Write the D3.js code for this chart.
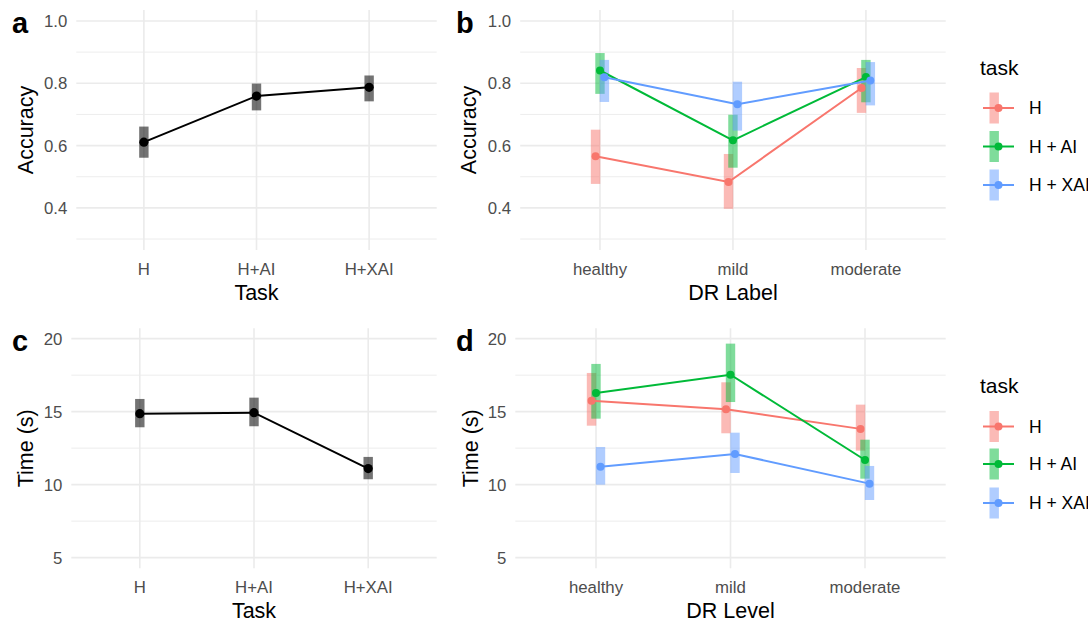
<!DOCTYPE html>
<html>
<head>
<meta charset="utf-8"/>
<script src="https://cdn.jsdelivr.net/npm/d3@7"></script>
<style>
body { margin: 0; background: #fff; }
svg { font-family: "Liberation Sans", Arial, sans-serif; }
.grid-major { stroke: #ebebeb; stroke-width: 1.6; }
.grid-minor { stroke: #ebebeb; stroke-width: 0.9; }
.tick-label { fill: #4d4d4d; font-size: 16.8px; }
.axis-title { fill: #000; font-size: 21.5px; }
.tag { font-size: 29px; font-weight: bold; }
</style>
</head>
<body>
<svg id="fig" width="1088" height="621"></svg>
<script>
// ---- data ----
var tasks = ["H", "H+AI", "H+XAI"];
var accMean = [0.611, 0.759, 0.787];
var accLo   = [0.561, 0.713, 0.742];
var accHi   = [0.661, 0.799, 0.825];
var timeMean = [14.86, 14.93, 11.10];
var timeLo   = [13.93, 14.00, 10.37];
var timeHi   = [15.87, 15.96, 11.90];

var levels = ["healthy", "mild", "moderate"];
var groups = ["H", "H + AI", "H + XAI"];
var groupColors = ["#F8766D", "#00BA38", "#619CFF"];

// accuracy by DR label, one row per group
var accLvMean = [[0.566, 0.483, 0.785], [0.841, 0.617, 0.820], [0.819, 0.733, 0.809]];
var accLvLo   = [[0.477, 0.397, 0.705], [0.766, 0.529, 0.739], [0.740, 0.648, 0.729]];
var accLvHi   = [[0.651, 0.573, 0.849], [0.897, 0.699, 0.875], [0.875, 0.805, 0.868]];

// time by DR level
var timeLvMean = [[15.75, 15.16, 13.82], [16.28, 17.53, 11.69], [11.23, 12.10, 10.07]];
var timeLvLo   = [[14.04, 13.52, 12.33], [14.52, 15.66, 10.41], [10.00, 10.80, 8.95]];
var timeLvHi   = [[17.65, 17.01, 15.48], [18.27, 19.66, 13.08], [12.58, 13.56, 11.28]];

var accTicks = [0.4, 0.6, 0.8, 1.0], accMinor = [0.3, 0.5, 0.7, 0.9];
var timeTicks = [5, 10, 15, 20], timeMinor = [7.5, 12.5, 17.5];

var svg = d3.select("#fig");

function panel(opt) {
  var g = svg.append("g");
  var x = d3.scalePoint().domain(opt.cats).range([opt.x0, opt.x1]).padding(0.6);
  var y = d3.scaleLinear().domain(opt.ydom).range([opt.y1, opt.y0]);

  g.selectAll(".gm").data(opt.minor).enter().append("line")
    .attr("class", "grid-minor")
    .attr("x1", opt.x0).attr("x2", opt.x1)
    .attr("y1", function(d) { return y(d); }).attr("y2", function(d) { return y(d); });
  g.selectAll(".gy").data(opt.ticks).enter().append("line")
    .attr("class", "grid-major")
    .attr("x1", opt.x0).attr("x2", opt.x1)
    .attr("y1", function(d) { return y(d); }).attr("y2", function(d) { return y(d); });
  g.selectAll(".gx").data(opt.cats).enter().append("line")
    .attr("class", "grid-major")
    .attr("y1", opt.y0).attr("y2", opt.y1)
    .attr("x1", function(d) { return x(d); }).attr("x2", function(d) { return x(d); });

  g.selectAll(".yl").data(opt.ticks).enter().append("text")
    .attr("class", "tick-label")
    .attr("x", opt.x0 - 9).attr("y", function(d) { return y(d); })
    .attr("dy", "0.36em").attr("text-anchor", "end")
    .text(opt.fmt);
  g.selectAll(".xl").data(opt.cats).enter().append("text")
    .attr("class", "tick-label")
    .attr("x", function(d) { return x(d); }).attr("y", opt.y1 + 25)
    .attr("text-anchor", "middle")
    .text(function(d) { return d; });

  g.append("text").attr("class", "axis-title")
    .attr("x", (opt.x0 + opt.x1) / 2).attr("y", opt.y1 + 50)
    .attr("text-anchor", "middle").text(opt.xtitle);
  g.append("text").attr("class", "axis-title")
    .attr("transform", "translate(" + opt.ytx + "," + (opt.y0 + opt.y1) / 2 + ") rotate(-90)")
    .attr("dy", "0.36em").attr("text-anchor", "middle").text(opt.ytitle);
  g.append("text").attr("class", "tag")
    .attr("x", opt.tagx).attr("y", opt.y0 + 23).text(opt.tag);

  var off = x.step() * 0.1 / 3;
  opt.series.forEach(function(s, si) {
    var dx = opt.series.length > 1 ? (si - 1) * off : 0;
    var pts = opt.cats.map(function(c, i) {
      return { x: x(c) + dx, m: s.mean[i], lo: s.lo[i], hi: s.hi[i] };
    });
    g.selectAll(null).data(pts).enter().append("rect")
      .attr("x", function(d) { return d.x - 4.7; }).attr("width", 9.4)
      .attr("y", function(d) { return y(d.hi); })
      .attr("height", function(d) { return y(d.lo) - y(d.hi); })
      .attr("fill", s.color).attr("opacity", s.barOpacity);
  });
  opt.series.forEach(function(s, si) {
    var dx = opt.series.length > 1 ? (si - 1) * off : 0;
    var pts = opt.cats.map(function(c, i) { return { x: x(c) + dx, m: s.mean[i] }; });
    g.append("path").datum(pts)
      .attr("fill", "none").attr("stroke", s.color).attr("stroke-width", s.lw)
      .attr("d", d3.line().x(function(d) { return d.x; }).y(function(d) { return y(d.m); }));
    g.selectAll(null).data(pts).enter().append("circle")
      .attr("cx", function(d) { return d.x; }).attr("cy", function(d) { return y(d.m); })
      .attr("r", s.r).attr("fill", s.color);
  });
}

function legend(x0, ytitle, ys) {
  var g = svg.append("g");
  g.append("text").attr("x", x0).attr("y", ytitle).attr("font-size", "21px").text("task");
  groups.forEach(function(name, i) {
    var cy = ys[i];
    g.append("rect").attr("x", x0 + 9.5).attr("y", cy - 15.5).attr("width", 9.4).attr("height", 31)
      .attr("fill", groupColors[i]).attr("opacity", 0.5);
    g.append("line").attr("x1", x0 + 3).attr("x2", x0 + 34).attr("y1", cy).attr("y2", cy)
      .attr("stroke", groupColors[i]).attr("stroke-width", 2);
    g.append("circle").attr("cx", x0 + 18.5).attr("cy", cy).attr("r", 4).attr("fill", groupColors[i]);
    g.append("text").attr("x", x0 + 49).attr("y", cy).attr("dy", "0.36em")
      .attr("font-size", "17.5px").text(name);
  });
}

var fmt1 = function(d) { return d.toFixed(1); };
var fmt0 = function(d) { return d; };

panel({ cats: tasks, x0: 76.3, x1: 436.7, y0: 10, y1: 250, ydom: [0.2648, 1.0352],
  ticks: accTicks, minor: accMinor, fmt: fmt1, xtitle: "Task", ytitle: "Accuracy", ytx: 25,
  tag: "a", tagx: 12,
  series: [{ mean: accMean, lo: accLo, hi: accHi, color: "#000", barOpacity: 0.55, lw: 2, r: 4.6 }] });

panel({ cats: levels, x0: 520.2, x1: 945.7, y0: 10, y1: 250, ydom: [0.2648, 1.0352],
  ticks: accTicks, minor: accMinor, fmt: fmt1, xtitle: "DR Label", ytitle: "Accuracy", ytx: 468,
  tag: "b", tagx: 456,
  series: groups.map(function(gname, i) {
    return { mean: accLvMean[i], lo: accLvLo[i], hi: accLvHi[i], color: groupColors[i], barOpacity: 0.5, lw: 2, r: 4 };
  }) });

panel({ cats: tasks, x0: 71.3, x1: 436.7, y0: 328.3, y1: 568.3, ydom: [4.27, 20.71],
  ticks: timeTicks, minor: timeMinor, fmt: fmt0, xtitle: "Task", ytitle: "Time (s)", ytx: 25,
  tag: "c", tagx: 12,
  series: [{ mean: timeMean, lo: timeLo, hi: timeHi, color: "#000", barOpacity: 0.55, lw: 2, r: 4.6 }] });

panel({ cats: levels, x0: 515.3, x1: 945.7, y0: 328.3, y1: 568.3, ydom: [4.27, 20.71],
  ticks: timeTicks, minor: timeMinor, fmt: fmt0, xtitle: "DR Level", ytitle: "Time (s)", ytx: 470,
  tag: "d", tagx: 456,
  series: groups.map(function(gname, i) {
    return { mean: timeLvMean[i], lo: timeLvLo[i], hi: timeLvHi[i], color: groupColors[i], barOpacity: 0.5, lw: 2, r: 4 };
  }) });

legend(980, 75, [108, 146.5, 185]);
legend(980, 393, [426.5, 464, 503]);
</script>
</body>
</html>
